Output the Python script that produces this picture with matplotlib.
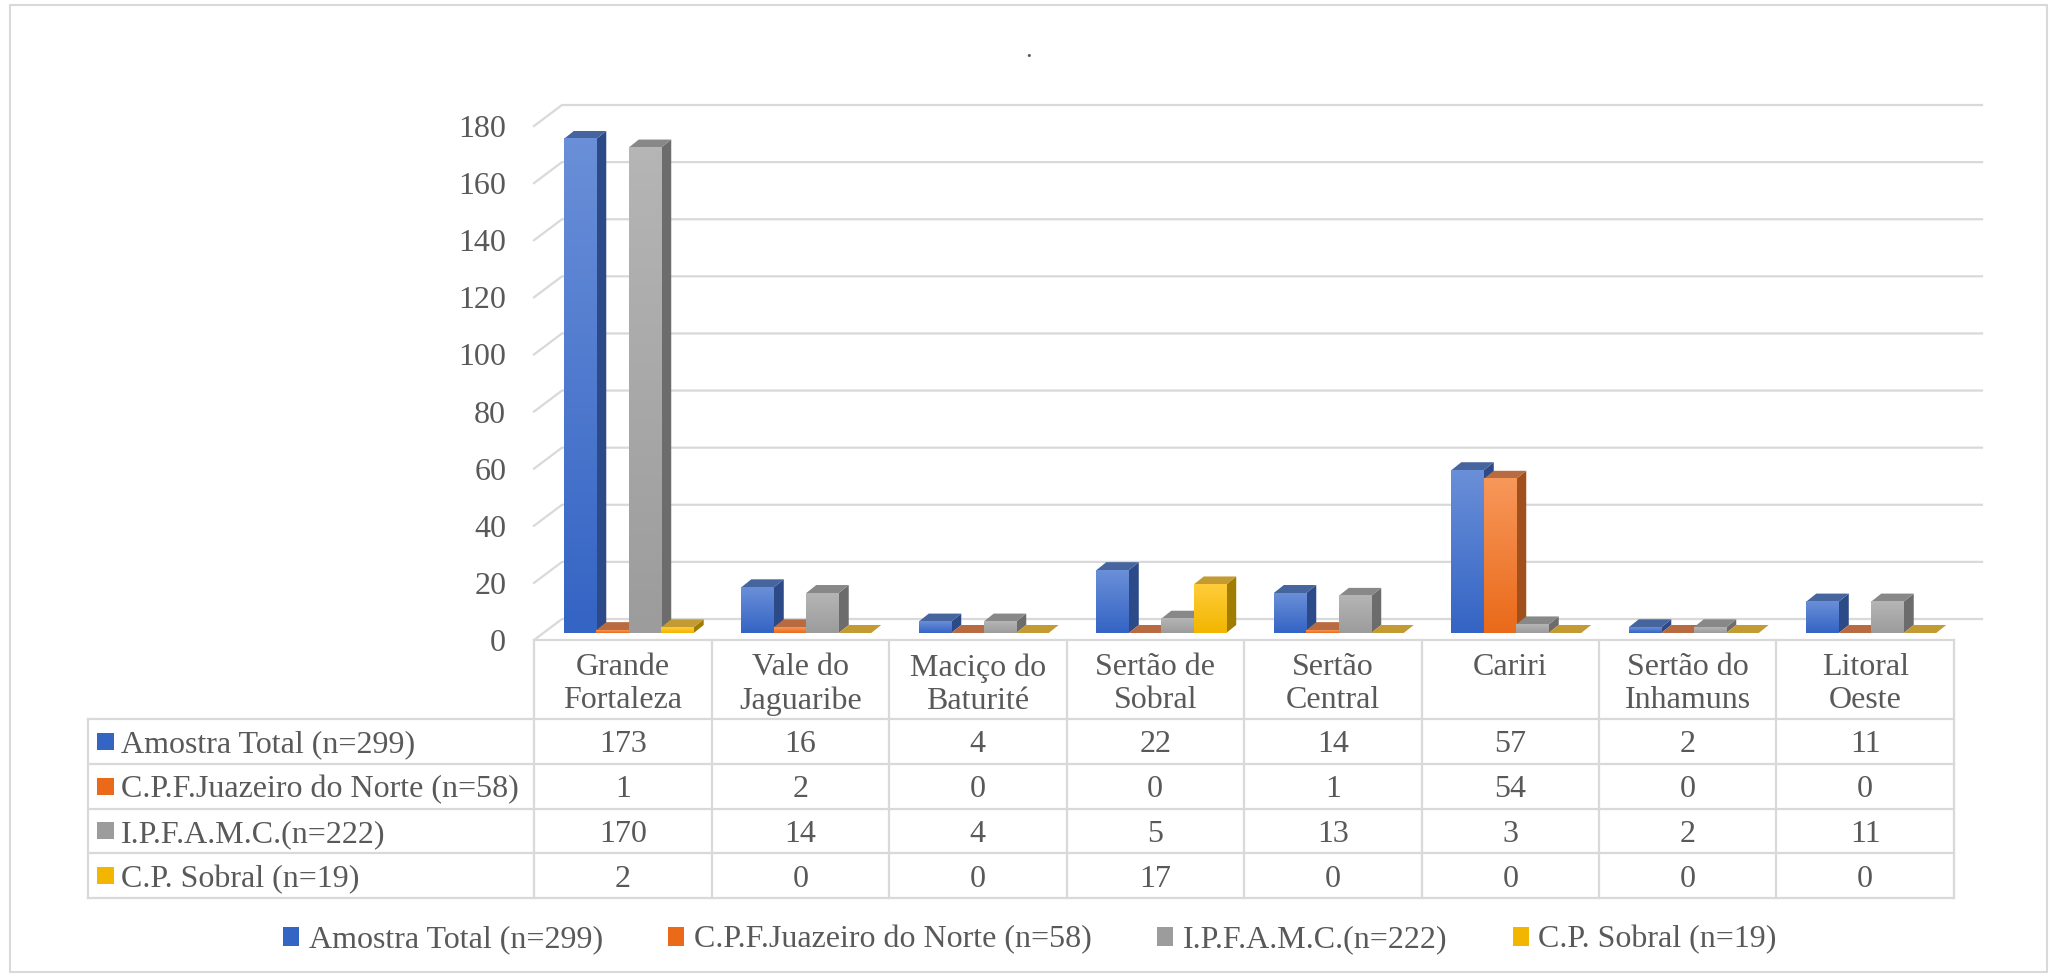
import numpy as np
import matplotlib.pyplot as plt
from matplotlib.colors import LinearSegmentedColormap
from matplotlib.patches import Polygon, Rectangle

plt.rcParams['font.family'] = ['Liberation Serif', 'DejaVu Serif']

regioes = ["Grande\nFortaleza", "Vale do\nJaguaribe", "Maciço do\nBaturité",
           "Sertão de\nSobral", "Sertão\nCentral", "Cariri",
           "Sertão do\nInhamuns", "Litoral\nOeste"]
series_nomes = ["Amostra Total (n=299)", "C.P.F.Juazeiro do Norte (n=58)",
                "I.P.F.A.M.C.(n=222)", "C.P. Sobral (n=19)"]
amostra_total = [173, 16, 4, 22, 14, 57, 2, 11]
juazeiro = [1, 2, 0, 0, 1, 54, 0, 0]
ipfamc = [170, 14, 4, 5, 13, 3, 2, 11]
sobral = [2, 0, 0, 17, 0, 0, 0, 0]
valores = [amostra_total, juazeiro, ipfamc, sobral]
yticks = list(range(0, 181, 20))

# frente (topo, base), lateral, tampa
cores = [
    ("#6a8fd8", "#3464c4", "#2c4a88", "#46649e"),
    ("#f7975a", "#ea6a1a", "#a0501c", "#b86a40"),
    ("#b5b5b5", "#9c9c9c", "#6c6c6c", "#888888"),
    ("#ffcd3a", "#f2b500", "#a07c00", "#c49a32"),
]
cinza_txt = "#595959"
cinza_linha = "#d9d9d9"
fs = 23

W, H = 2053, 977
fig = plt.figure(figsize=(W / 100, H / 100), dpi=100)


def caixa(l, t, r, b):
    return [l / W, 1 - b / H, (r - l) / W, (b - t) / H]


ax = fig.add_axes(caixa(534, 126, 1954, 640))
ax.set_autoscale_on(False)
ax.set_xlim(-0.5, 7.5)
ax.set_ylim(0, 180)
for s in ax.spines.values():
    s.set_visible(False)
ax.set_xticks([])
ax.set_yticks(yticks)
ax.tick_params(axis='y', length=0, pad=20, labelsize=fs, labelcolor=cinza_txt)

px_x = 1420 / 8
px_y = 514 / 180
parede_dx, parede_dy = 28 / px_x, 21 / px_y
frente_dx, frente_dy = 6 / px_x, 7 / px_y
prof_dx, prof_dy = 10 / px_x, 8 / px_y
largura = 0.183

# grade com parede lateral e fundo
for v in yticks:
    ax.plot([-0.5, -0.5 + parede_dx, 7.5 + parede_dx],
            [v, v + parede_dy, v + parede_dy],
            color=cinza_linha, lw=1.6, clip_on=False, zorder=1)

grad = np.linspace(0, 1, 64).reshape(-1, 1)
mapas = [LinearSegmentedColormap.from_list("c%d" % k, [c[0], c[1]]) for k, c in enumerate(cores)]

z = 2
for i in range(len(regioes)):
    for k in range(4):
        v = valores[k][i]
        x0 = i + (k - 2) * largura + frente_dx
        x1 = x0 + largura
        y0 = frente_dy
        y1 = y0 + v
        ax.add_patch(Polygon([(x1, y0), (x1 + prof_dx, y0 + prof_dy),
                              (x1 + prof_dx, y1 + prof_dy), (x1, y1)],
                             closed=True, fc=cores[k][2], ec='none', zorder=z))
        ax.add_patch(Polygon([(x0, y1), (x1, y1), (x1 + prof_dx, y1 + prof_dy),
                              (x0 + prof_dx, y1 + prof_dy)],
                             closed=True, fc=cores[k][3], ec='none', zorder=z))
        if v > 0:
            ax.imshow(grad, cmap=mapas[k], extent=[x0, x1, y0, y1], aspect='auto',
                      interpolation='bilinear', zorder=z)
        z += 1
ax.set_xlim(-0.5, 7.5)
ax.set_ylim(0, 180)

# tabela de dados
L = 446 / px_x
cab = 79 / 44.75
axt = fig.add_axes(caixa(88, 640, 1954, 898))
axt.axis('off')
axt.set_xlim(-L, 8)
axt.set_ylim(cab + 4, 0)
kw = dict(color=cinza_linha, lw=1.6, clip_on=False)
for c in range(9):
    axt.plot([c, c], [0, cab + 4], **kw)
axt.plot([-L, -L], [cab, cab + 4], **kw)
axt.plot([0, 8], [0, 0], **kw)
for r in range(5):
    axt.plot([-L, 8], [cab + r, cab + r], **kw)

for i, nome in enumerate(regioes):
    axt.text(i + 0.5, 0.3, nome, ha='center', va='top', fontsize=fs,
             color=cinza_txt, linespacing=1.18)

for r in range(4):
    yc = cab + r + 0.5
    axt.add_patch(Rectangle((-L + 0.05, yc - 0.19), 0.096, 0.38,
                            fc=cores[r][1], ec='none', clip_on=False))
    axt.text(-L + 0.186, yc, series_nomes[r], ha='left', va='center_baseline',
             fontsize=fs, color=cinza_txt)
    for i in range(len(regioes)):
        axt.text(i + 0.5, yc, str(valores[r][i]), ha='center', va='center_baseline',
                 fontsize=fs, color=cinza_txt)

# legenda
alcas = [Rectangle((0, 0), 1, 1, fc=c[1], ec='none') for c in cores]
fig.legend(alcas, series_nomes, loc='center', bbox_to_anchor=(1030 / W, 1 - 940 / H),
           ncol=4, frameon=False, fontsize=fs, handlelength=0.5, handleheight=0.55,
           handletextpad=0.3, columnspacing=2.05, labelcolor=cinza_txt)

fig.text(1029 / W, 1 - 57 / H, ".", ha='center', va='baseline', fontsize=19, color=cinza_txt)

fig.patches.append(Rectangle((10 / W, 1 - 972 / H), 2037 / W, 967 / H,
                             transform=fig.transFigure, fill=False, ec=cinza_linha, lw=1.5))

fig.savefig("out.png", dpi=100)
